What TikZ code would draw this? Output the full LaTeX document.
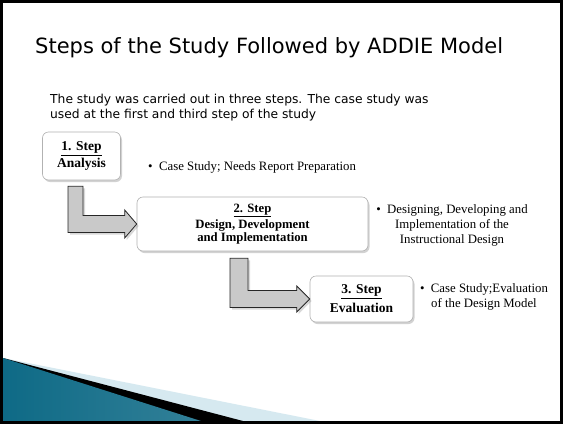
\documentclass[tikz,border=0pt]{standalone}
\usepackage{fontspec}
\setmainfont{Liberation Serif}
\newfontfamily\slidefont{DejaVu Sans}
\usetikzlibrary{shadows}

\definecolor{tealdark}{HTML}{0E6A86}
\definecolor{teallight}{HTML}{4DB6D3}
\definecolor{paleblue}{HTML}{D6E9F0}
\definecolor{arrowgray}{HTML}{C9C9C9}

\begin{document}
\begin{tikzpicture}
[every node/.style={inner sep=0pt},
 stepbox/.style={rounded corners=6pt, draw=black!30, line width=0.6pt, fill=white, align=center, font=\bfseries\fontsize{13.5}{15}\selectfont, drop shadow={shadow xshift=1.5pt, shadow yshift=-2pt, opacity=0.35}},
 note/.style={align=center, font=\fontsize{12.8}{15}\selectfont},
 blockarrow/.style={fill=arrowgray, draw=black!85, line width=0.8pt, drop shadow={shadow xshift=2pt, shadow yshift=-2pt, opacity=0.3}}]
\useasboundingbox (0pt,0pt) rectangle (563pt,-424pt);
\fill [white] (0pt,0pt) rectangle (563pt,-424pt);
% corner wedge
\fill [paleblue] (3pt,-358pt) -- (320pt,-421pt) -- (3pt,-421pt) -- cycle;
\fill [black] (3pt,-358pt) -- (243pt,-421pt) -- (3pt,-421pt) -- cycle;
\shade [left color=tealdark, middle color=teallight, right color=tealdark!85] (3pt,-358pt) -- (201pt,-421pt) -- (3pt,-421pt) -- cycle;
\draw [line width=3pt] (1.5pt,-1.5pt) rectangle (561.5pt,-422.5pt);
% texts
\node (t) [anchor=base west, font=\slidefont\fontsize{21}{24}\selectfont] at (35pt,-53pt) {Steps of the Study Followed by ADDIE Model};
\node (s) [anchor=north west, align=left, font=\slidefont\fontsize{12.3}{15}\selectfont] at (50pt,-94pt) {The study was carried out in three steps. The case study was\\used at the first and third step of the study};
% steps
\node (1) [stepbox, minimum width=78pt, minimum height=48pt] at (81.5pt, -156pt) {\underline{1. Step}\\[2pt]Analysis};
\node (2) [stepbox, minimum width=231pt, minimum height=54pt, font=\bfseries\fontsize{12.7}{13}\selectfont] at (252.5pt, -224pt) {\underline{2. Step}\\[1.5pt]Design, Development\\and Implementation};
\node (3) [stepbox, minimum width=103pt, minimum height=46pt] at (361.5pt, -299pt) {\underline{3. Step}\\[4pt]Evaluation};
\node (1n) [note, anchor=west] at (148pt, -167pt) {\textbullet\ \ Case Study; Needs Report Preparation};
\node (2n) [note] at (452pt, -225pt) {\textbullet\ \ Designing, Developing and\\Implementation of the\\Instructional Design};
\node (3n) [note] at (484pt, -297pt) {\textbullet\ \ Case Study;Evaluation\\of the Design Model};
% arrows
\draw [blockarrow] (2.west) -- ++(-12pt,14pt) -- ++(0pt,-5.5pt) -| ([xshift=1.5pt, yshift=-6pt]1.south) -- ++(-15pt,0pt) |- ([xshift=-12pt, yshift=-8.5pt]2.west) -- ++(0pt,-5.5pt) -- cycle;
\draw [blockarrow] (3.west) -- ++(-13pt,13pt) -- ++(0pt,-4.5pt) -| ([xshift=-4.5pt, yshift=-7pt]2.south) -- ++(-18pt,0pt) |- ([xshift=-13pt, yshift=-8.5pt]3.west) -- ++(0pt,-4.5pt) -- cycle;
\end{tikzpicture}
\end{document}
